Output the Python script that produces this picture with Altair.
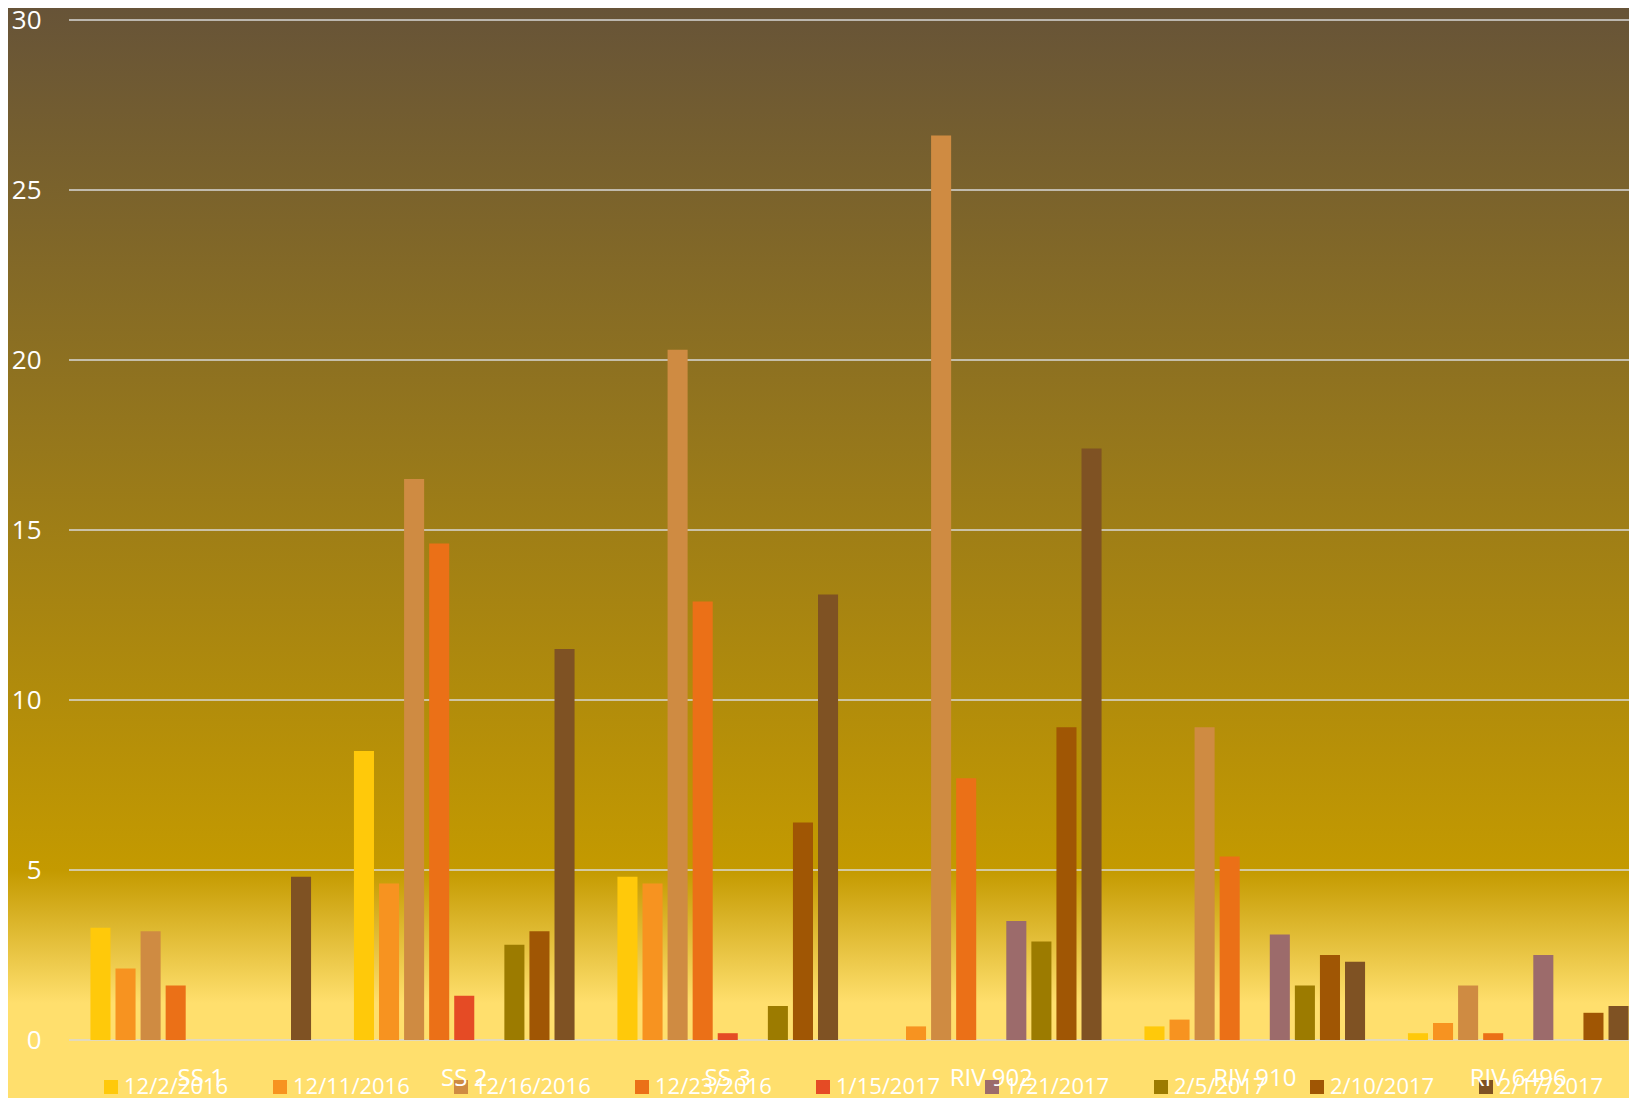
import altair as alt
import pandas as pd

sites = ["SS 1", "SS 2", "SS 3", "RIV 902", "RIV 910", "RIV 6496"]
dates = ["12/2/2016", "12/11/2016", "12/16/2016", "12/23/2016", "1/15/2017",
         "1/21/2017", "2/5/2017", "2/10/2017", "2/17/2017"]
colors = ["#FFC90A", "#F79320", "#CF8B42", "#EB7017", "#E54B25",
          "#9C6B6B", "#9C7B00", "#A05604", "#7F5223"]

# values per date series, in the order of `sites` (0 = no bar)
v_12_2 = [3.3, 8.5, 4.8, 0.0, 0.4, 0.2]
v_12_11 = [2.1, 4.6, 4.6, 0.4, 0.6, 0.5]
v_12_16 = [3.2, 16.5, 20.3, 26.6, 9.2, 1.6]
v_12_23 = [1.6, 14.6, 12.9, 7.7, 5.4, 0.2]
v_1_15 = [0.0, 1.3, 0.2, 0.0, 0.0, 0.0]
v_1_21 = [0.0, 0.0, 0.0, 3.5, 3.1, 2.5]
v_2_5 = [0.0, 2.8, 1.0, 2.9, 1.6, 0.0]
v_2_10 = [0.0, 3.2, 6.4, 9.2, 2.5, 0.8]
v_2_17 = [4.8, 11.5, 13.1, 17.4, 2.3, 1.0]
series = [v_12_2, v_12_11, v_12_16, v_12_23, v_1_15, v_1_21, v_2_5, v_2_10, v_2_17]

y_ticks = [0, 5, 10, 15, 20, 25, 30]

rows = []
for d, vals in zip(dates, series):
    for s, v in zip(sites, vals):
        rows.append({"site": s, "date": d, "value": v})
df = pd.DataFrame(rows)

W = 1560
H = 1020
FONT = "Open Sans"

y_axis = alt.Axis(values=y_ticks, grid=False, ticks=False, domain=False,
                  labelColor="white", labelFontSize=26, labelFont=FONT,
                  labelPadding=28, title=None, zindex=1)
y_scale = alt.Scale(domain=[0, 30], nice=False)

gradient = alt.LinearGradient(
    gradient="linear", x1=0, y1=0, x2=0, y2=1,
    stops=[
        alt.GradientStop(offset=0.0, color="#665338"),
        alt.GradientStop(offset=0.79, color="#C49A00"),
        alt.GradientStop(offset=0.91, color="#FFDF6D"),
        alt.GradientStop(offset=1.0, color="#FFDF6D"),
    ],
)

bg = alt.Chart(pd.DataFrame({"a": [0]})).mark_rect(fill=gradient).encode(
    x=alt.value(-69), x2=alt.value(1568), y=alt.value(-20), y2=alt.value(1082)
)

grid = alt.Chart(pd.DataFrame({"v": y_ticks})).mark_rule(
    color="#D9D9D9", strokeWidth=1.5
).encode(y=alt.Y("v:Q", scale=y_scale, axis=y_axis))

bars = alt.Chart(df).mark_bar().encode(
    x=alt.X("site:N", sort=sites,
            scale=alt.Scale(paddingInner=0, paddingOuter=0, range=[0, 1581]),
            axis=alt.Axis(labelAngle=0, ticks=False, domain=False, labelColor="white",
                          labelFontSize=24, labelFont=FONT, labelPadding=26,
                          title=None, zindex=1)),
    xOffset=alt.XOffset("date:N", sort=dates,
                        scale=alt.Scale(paddingInner=0.2, paddingOuter=0.855)),
    y=alt.Y("value:Q", scale=y_scale, axis=y_axis),
    color=alt.Color("date:N", sort=dates,
                    scale=alt.Scale(domain=dates, range=colors),
                    legend=alt.Legend(orient="none", direction="horizontal", columns=9,
                                      legendX=31, legendY=1056, title=None,
                                      symbolType="square", symbolSize=196,
                                      symbolStrokeWidth=0, symbolOpacity=1,
                                      labelFontSize=22, labelFont=FONT,
                                      labelColor="white", labelOffset=2,
                                      columnPadding=40, padding=0)),
)

chart = alt.layer(bg, grid, bars).properties(
    width=W, height=H,
    autosize=alt.AutoSizeParams(type="none"),
    padding={"left": 61, "top": 12, "right": 0, "bottom": 58},
).configure_view(stroke=None)

chart.save("out.html", embed_options={"renderer": "svg", "actions": False})
